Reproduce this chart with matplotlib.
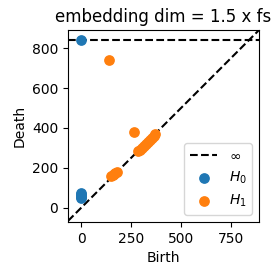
import matplotlib
matplotlib.use("Agg")
import matplotlib.pyplot as plt
import numpy as np

# persistence pairs
h0_birth = [0, 0, 0, 0, 0, 0]
h0_death = [840, 75, 68, 62, 56, 52]
h1_birth = [142, 265, 150, 158, 165, 172, 178, 285, 295, 305, 315, 325, 335, 345, 355, 365, 372]
h1_death = [740, 380, 158, 163, 170, 176, 182, 283, 292, 302, 312, 322, 332, 342, 352, 362, 372]
inf_death = 840
lims = (-65, 890)

fig = plt.figure(figsize=(2.8, 2.76), dpi=100)
ax = fig.add_axes([0.243, 0.196, 0.682, 0.695])

ax.plot(lims, lims, 'k--', zorder=1)
ax.axhline(inf_death, color='k', ls='--', label=r'$\infty$', zorder=1)
ax.scatter(h0_birth, h0_death, s=45, color='#1f77b4', label=r'$H_0$', zorder=2)
ax.scatter(h1_birth, h1_death, s=45, color='#ff7f0e', label=r'$H_1$', zorder=2)

ax.set_xlim(lims)
ax.set_ylim(-70, 890)
ax.set_xticks([0, 250, 500, 750])
ax.set_yticks([0, 200, 400, 600, 800])
ax.set_xlabel('Birth')
ax.set_ylabel('Death')
ax.set_title('embedding dim = 1.5 x fs')
ax.legend(loc='lower right')

fig.savefig('out.png', dpi=100)
